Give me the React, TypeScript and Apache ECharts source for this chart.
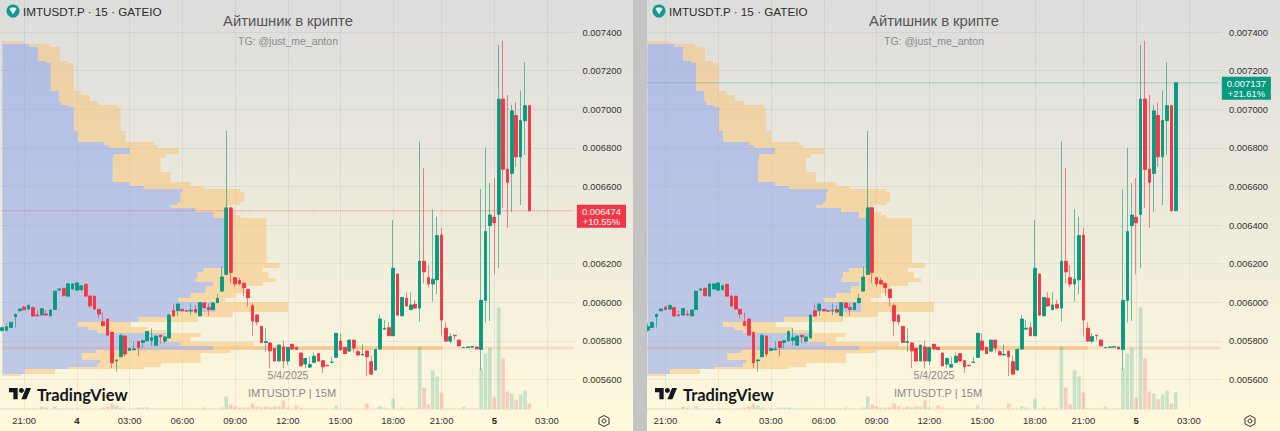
import React, { useEffect, useRef } from "react";
import * as echarts from "echarts";

// open, close, low, high in millionths, one row per 15 minute candle
const ohlc = [
  [5854, 5868, 5848, 5873], [5856, 5873, 5848, 5891], [5870, 5896, 5868, 5899], [5925, 5937, 5870, 5941],
  [5956, 5965, 5956, 5968], [5974, 5962, 5960, 5982], [5965, 5984, 5963, 5986], [5972, 5929, 5927, 5977],
  [5934, 5930, 5929, 5960], [5934, 5967, 5932, 5969], [5939, 5934, 5932, 5960], [5930, 5960, 5929, 5962],
  [5963, 6057, 5962, 6059], [6063, 6069, 6062, 6072], [6072, 6034, 6032, 6075], [6032, 6095, 6030, 6098],
  [6069, 6095, 6067, 6097], [6063, 6100, 6062, 6103], [6065, 6086, 6063, 6088], [6093, 6032, 6030, 6096],
  [6032, 5982, 5972, 6035], [6031, 5965, 5963, 6033], [5963, 5939, 5917, 5965], [5899, 5879, 5877, 5948],
  [5913, 5830, 5828, 5916], [5844, 5687, 5658, 5846], [5697, 5701, 5640, 5704], [5718, 5827, 5716, 5839],
  [5825, 5732, 5718, 5827], [5751, 5761, 5749, 5763], [5754, 5758, 5752, 5799], [5796, 5766, 5721, 5798],
  [5792, 5801, 5761, 5803], [5801, 5848, 5799, 5850], [5803, 5816, 5775, 5865], [5778, 5825, 5776, 5827],
  [5829, 5822, 5787, 5831], [5799, 5820, 5787, 5822], [5815, 5934, 5813, 5936], [5956, 5929, 5927, 5994],
  [5958, 5991, 5930, 5993], [5963, 5956, 5954, 5965], [5956, 5955, 5953, 5958], [5955, 5958, 5934, 5994],
  [5962, 5949, 5947, 5986], [5930, 5998, 5928, 6000], [5996, 5972, 5970, 5998], [5972, 5963, 5930, 5994],
  [5962, 5996, 5960, 5998], [5998, 6020, 5996, 6043], [6058, 6131, 6056, 6184], [6145, 6489, 6143, 6887],
  [6489, 6155, 6098, 6492], [6127, 6096, 6081, 6130], [6112, 6095, 6093, 6127], [6098, 6076, 6032, 6100],
  [6067, 6024, 5977, 6070], [5982, 5903, 5827, 5994], [5934, 5899, 5882, 5937], [5875, 5792, 5790, 5877],
  [5792, 5796, 5744, 5865], [5789, 5749, 5658, 5791], [5761, 5696, 5694, 5763], [5696, 5778, 5694, 5780],
  [5768, 5696, 5658, 5801], [5696, 5766, 5675, 5768], [5782, 5758, 5756, 5785], [5766, 5756, 5754, 5768],
  [5737, 5671, 5669, 5739], [5680, 5709, 5658, 5712], [5664, 5678, 5662, 5718], [5689, 5720, 5687, 5740],
  [5734, 5696, 5694, 5737], [5697, 5666, 5635, 5699], [5673, 5671, 5669, 5676], [5689, 5690, 5687, 5718],
  [5715, 5839, 5713, 5842], [5799, 5753, 5751, 5839], [5766, 5734, 5732, 5768], [5747, 5804, 5745, 5806],
  [5804, 5763, 5740, 5806], [5744, 5727, 5725, 5753], [5727, 5730, 5725, 5782], [5747, 5718, 5618, 5749],
  [5692, 5628, 5626, 5723], [5649, 5756, 5647, 5758], [5758, 5913, 5756, 5934], [5861, 5865, 5859, 5908],
  [5868, 5827, 5825, 5896], [5827, 6176, 5825, 6426], [6146, 5934, 5929, 6148], [5930, 6025, 5928, 6027],
  [6020, 5981, 5979, 6051], [5962, 5986, 5960, 6051], [5989, 5970, 5968, 6012], [5970, 6212, 5899, 6832],
  [6212, 6158, 6098, 6696], [6127, 6095, 6077, 6193], [6095, 6119, 6003, 6482], [6117, 6345, 6043, 6443],
  [6348, 5908, 5827, 6385], [5865, 5799, 5797, 5896], [5799, 5822, 5787, 5839], [5829, 5827, 5804, 5831],
  [5804, 5775, 5770, 5806], [5765, 5766, 5763, 5768], [5766, 5768, 5765, 5770], [5768, 5770, 5766, 5772],
  [5768, 5759, 5757, 5770], [5756, 6010, 5649, 6587], [6010, 6366, 5896, 6801], [6397, 6452, 5903, 6618],
  [6440, 6412, 6145, 6644], [6456, 7052, 6176, 7333], [7052, 6689, 6490, 7355], [6689, 6622, 6385, 7074],
  [6668, 6991, 6469, 7022], [6967, 6754, 6702, 7036], [6754, 6941, 6504, 7096], [6941, 7018, 6763, 7243],
  [7018, 6474, 6474, 7018], [6474, 7137, 6474, 7137],
];

const volumes = [
  1, 1, 1, 1, 1, 1, 1, 1, 1, 3, 2, 1, 3, 1, 1, 1, 1, 1, 1, 1, 1, 1, 1, 2, 3, 6, 4, 2, 1, 1, 1, 2, 2, 2, 1, 1, 1, 1, 1, 1,
  1, 1, 1, 1, 1, 1, 2, 1, 1, 1, 2, 13, 5, 3, 2, 2, 2, 6, 3, 2, 3, 2, 3, 3, 9, 2, 1, 4, 2, 1, 1, 1, 1, 1, 1, 1,
  4, 1, 1, 1, 1, 1, 1, 6, 1, 1, 3, 2, 1, 11, 1, 2, 1, 1, 1, 63, 22, 5, 39, 33, 17, 1, 1, 1, 1, 3, 1, 1, 1, 41, 56, 62,
  12, 102, 51, 18, 16, 10, 15, 19, 6, 17,
];

// volume profile, one row between each price and the next one
const profilePrices = [
  7354, 7338, 7323, 7250, 7240, 7095, 7074, 7043, 7022, 7012, 6887, 6830, 6815, 6799, 6768, 6747, 6675, 6623, 6602, 6587,
  6571, 6520, 6504, 6489, 6468, 6452, 6437, 6204, 6178, 6157, 6126, 6105, 6084, 6048, 6022, 6002, 5950, 5924, 5898, 5872,
  5856, 5841, 5820, 5794, 5774, 5753, 5737, 5701, 5685, 5665, 5652, 5631, 5618,
];
const profileUp = [
  2, 28, 37, 45, 50, 58, 58, 60, 68, 73, 77, 103, 108, 129, 113, 112, 112, 129, 143, 182,
  180, 177, 170, 195, 213, 213, 224, 224, 203, 197, 195, 213, 205, 190, 178, 215, 170, 138, 77, 88,
  97, 165, 160, 180, 213, 95, 81, 100, 97, 68, 24, 2,
];
const profileTotal = [
  24, 49, 59, 67, 73, 80, 89, 98, 117, 120, 125, 153, 157, 178, 165, 160, 170, 190, 204, 240,
  244, 240, 227, 224, 235, 240, 266, 279, 262, 268, 275, 262, 245, 235, 225, 288, 232, 197, 130, 147,
  167, 200, 190, 253, 442, 230, 200, 200, 160, 143, 54, 20,
];

const pricePoc = 0.005763;
const priceTicks = [0.0056, 0.0058, 0.006, 0.0062, 0.0064, 0.0066, 0.0068, 0.007, 0.0072, 0.0074];
// the first panel's price tag sits where 0.006400 would be
const firstPanelTicks = priceTicks.filter((v) => v !== 0.0064);
const tickIndexes = [5, 17, 29, 41, 53, 65, 77, 89, 100, 112, 124];
const tickLabels = ["21:00", "4", "03:00", "06:00", "09:00", "12:00", "15:00", "18:00", "21:00", "5", "03:00"];

const categories = Array.from({ length: 132 }, (_, i) => {
  const k = tickIndexes.indexOf(i);
  return k >= 0 ? tickLabels[k] : "c" + i;
});

const UP = "#089981";
const DOWN = "#f23645";
const FONT = '"Liberation Sans", Arial, sans-serif';
const PLOT_H = 409.5;
const BAND = 4.4;
const PRICE_MIN = 0.00544461;
const PRICE_MAX = 0.00756576;

echarts.graphic.registerShape(
  "tvlogo",
  echarts.graphic.extendPath("M14 22H7V11H0V4h14v18zM28 22h-8l7.5-18h8L28 22z", {}),
);

const profileRender = (color: string) => (_: any, api: any) => {
  const a = api.coord([api.value(0), api.value(2)]);
  const b = api.coord([api.value(1), api.value(3)]);
  const y0 = Math.round(a[1]);
  const y1 = Math.round(b[1]);
  return {
    type: "rect",
    shape: { x: a[0], y: y0, width: b[0] - a[0], height: y1 - y0 },
    style: { fill: color },
  };
};

// one panel of the screenshot: its axes, series and decoration
function buildPanel(
  p: number,
  left: number,
  bands: number,
  shift: number,
  count: number,
  tag: string[],
  tagColor: string,
  tagOffset: number,
  labelTicks: number[],
) {
  const width = bands * BAND;
  const rows = ohlc.slice(0, count);
  const lastPrice = Number(tag[0]);
  const hex = [[604, 415.5], [609, 418.2], [609, 423.8], [604, 426.5], [599, 423.8], [599, 418.2]];
  const grid = { left, top: 0, width, height: PLOT_H };
  const catAxis = {
    type: "category",
    gridIndex: p,
    data: categories.slice(0, bands),
    axisLine: { show: false },
    axisTick: { show: false },
    splitLine: {
      show: true,
      alignWithLabel: true,
      interval: (i: number) => tickIndexes.includes(i),
      lineStyle: { color: "rgba(60,60,60,0.07)", width: 1 },
    },
    axisLabel: {
      interval: (i: number) => tickIndexes.includes(i),
      hideOverlap: false,
      margin: 6,
      fontFamily: FONT,
      fontSize: 9.5,
      color: "#333",
      formatter: (v: string) => (v.length === 1 ? `{b|${v}}` : v),
      rich: { b: { fontWeight: "bold", fontSize: 9.5, fontFamily: FONT, color: "#222" } },
    },
  };
  const profileAxis = {
    type: "value",
    gridIndex: p,
    show: false,
    min: -0.85 - shift,
    max: -0.85 - shift + width,
    splitLine: { show: false },
  };
  const priceAxis = {
    type: "value",
    gridIndex: p,
    position: "right",
    min: PRICE_MIN,
    max: PRICE_MAX,
    axisLine: { show: false },
    axisTick: { show: false, customValues: priceTicks },
    splitLine: { show: true, lineStyle: { color: "rgba(60,60,60,0.07)", width: 1 } },
    axisLabel: {
      customValues: labelTicks,
      margin: 7,
      padding: [0, 0, 1.5, 0],
      fontFamily: FONT,
      fontSize: 9.4,
      color: "#333",
      formatter: (v: number) => v.toFixed(6),
    },
  };
  const volumeAxis = { type: "value", gridIndex: p, show: false, min: 0, max: PLOT_H, splitLine: { show: false } };

  const bandData = (fromUp: boolean) =>
    profileUp.map((u, i) => [fromUp ? 1.5 : u, fromUp ? u : profileTotal[i], profilePrices[i] / 1e6, profilePrices[i + 1] / 1e6]);

  const candleStyle = { color: UP, color0: DOWN, borderColor: UP, borderColor0: DOWN };

  const series = [
    {
      type: "custom",
      xAxisIndex: p * 2 + 1,
      yAxisIndex: p * 2,
      z: 1,
      silent: true,
      encode: { x: [0, 1], y: [2, 3] },
      renderItem: profileRender("rgba(131,158,238,0.5)"),
      data: bandData(true),
    },
    {
      type: "custom",
      xAxisIndex: p * 2 + 1,
      yAxisIndex: p * 2,
      z: 1,
      silent: true,
      encode: { x: [0, 1], y: [2, 3] },
      renderItem: profileRender("rgba(250,193,112,0.5)"),
      data: bandData(false),
    },
    {
      // pale band at the point of control
      type: "line",
      xAxisIndex: p * 2,
      yAxisIndex: p * 2,
      z: 1.5,
      silent: true,
      symbol: "none",
      lineStyle: { width: 3, color: "rgba(240,110,60,0.17)" },
      data: categories.slice(0, bands).map(() => pricePoc),
    },
    {
      type: "bar",
      xAxisIndex: p * 2,
      yAxisIndex: p * 2 + 1,
      z: 2,
      silent: true,
      barWidth: 3.6,
      data: rows.map((r, i) => ({
        value: volumes[i],
        itemStyle: { color: r[1] >= r[0] ? "rgba(8,153,129,0.22)" : "rgba(242,54,69,0.22)" },
      })),
    },
    {
      // wicks, drawn pale
      type: "candlestick",
      xAxisIndex: p * 2,
      yAxisIndex: p * 2,
      z: 3,
      silent: true,
      barWidth: 3,
      itemStyle: { ...candleStyle, borderWidth: 1, opacity: 0.6 },
      data: rows.map((r) => r.map((v) => v / 1e6)),
    },
    {
      // bodies on top of the wicks
      type: "candlestick",
      xAxisIndex: p * 2,
      yAxisIndex: p * 2,
      z: 3.1,
      silent: true,
      barWidth: 3.2,
      barGap: "-100%",
      itemStyle: { ...candleStyle, borderWidth: 0.6 },
      data: rows.map((r) => [r[0], r[1], Math.min(r[0], r[1]), Math.max(r[0], r[1])].map((v) => v / 1e6)),
    },
    {
      // last price, dotted, with its tag at the end
      type: "line",
      xAxisIndex: p * 2,
      yAxisIndex: p * 2,
      z: 4,
      silent: true,
      symbol: "none",
      lineStyle: { type: "dotted", width: 1, color: tagColor, opacity: 0.6 },
      data: categories.slice(0, bands).map(() => lastPrice),
      endLabel: {
        show: true,
        distance: 3.6,
        offset: [tagOffset, 5.5],
        formatter: tag.join("\n"),
        backgroundColor: tagColor,
        color: "#fff",
        fontFamily: FONT,
        fontSize: 9.4,
        lineHeight: 10.5,
        align: "center",
        padding: [1, 5],
      },
    },
  ];

  const dx = p === 0 ? 0 : 646;
  const txt = (x: number, y: number, text: string, size: number, fill: string, align = "center", weight = "normal", family = FONT) => ({
    type: "text",
    z: 50,
    x: x + dx,
    y,
    style: { text, fontSize: size, fontFamily: family, fontWeight: weight, fill, align, verticalAlign: "middle" },
  });
  const graphics = [
    { type: "circle", z: 50, shape: { cx: 13 + dx, cy: 11, r: 6.5 }, style: { fill: "#11998e" } },
    {
      type: "polygon",
      z: 51,
      shape: { points: [[9.5 + dx, 9], [11 + dx, 7.5], [15 + dx, 7.5], [16.5 + dx, 9], [13 + dx, 14.5]] },
      style: { fill: "#e6f6f3" },
    },
    txt(23, 11, "IMTUSDT.P · 15 · GATEIO", 11.7, "#2c2c2c", "left"),
    txt(288, 21, "Айтишник в крипте", 14.8, "#555"),
    txt(288, 41, "TG: @just_me_anton", 10.5, "#8b8b8b"),
    txt(288, 375, "5/4/2025", 10.5, "#8a8a8a"),
    txt(292, 393, "IMTUSDT.P | 15M", 11, "#8a8a8a"),
    { type: "tvlogo", z: 50, x: 9 + dx, y: 385.5, scaleX: 0.62, scaleY: 0.62, style: { fill: "#131722" } },
    { type: "circle", z: 50, shape: { cx: 9 + dx + 20 * 0.62, cy: 385.5 + 8 * 0.62, r: 4 * 0.62 }, style: { fill: "#131722" } },
    txt(37, 394.5, "TradingView", 16.4, "#131722", "left", "700", "Lato"),
    {
      type: "polygon",
      z: 50,
      shape: { points: hex.map((h) => [h[0] + dx, h[1]]) },
      style: { fill: "none", stroke: "#333", lineWidth: 1 },
    },
    { type: "circle", z: 50, shape: { cx: 604 + dx, cy: 421, r: 2 }, style: { fill: "none", stroke: "#333", lineWidth: 1 } },
  ];

  return { grid, xAxes: [catAxis, profileAxis], yAxes: [priceAxis, volumeAxis], series, graphics };
}

const App: React.FC = () => {
  const chartRef = useRef<HTMLDivElement>(null);

  useEffect(() => {
    const chart = echarts.init(chartRef.current!, null, { renderer: "svg" });
    const a = buildPanel(0, -0.85, 131, 0, 121, ["0.006474", "+10.55%"], DOWN, 24.5, firstPanelTicks);
    const b = buildPanel(1, 641.15, 132, 4, 122, ["0.007137", "+21.61%"], UP, 23, priceTicks);

    chart.setOption({
      animation: false,
      backgroundColor: new echarts.graphic.LinearGradient(0, 0, 0, 1, [
        { offset: 0, color: "#dcdcdc" },
        { offset: 1, color: "#fff9dc" },
      ]),
      grid: [a.grid, b.grid],
      xAxis: [...a.xAxes, ...b.xAxes],
      yAxis: [...a.yAxes, ...b.yAxes],
      series: [...a.series, ...b.series],
      graphic: [
        ...a.graphics,
        ...b.graphics,
        // grey strip between the two screenshots
        { type: "rect", z: 40, shape: { x: 633, y: 0, width: 14, height: 431 }, style: { fill: "#c4c4c4" } },
      ],
    });

    return () => {
      chart.dispose();
    };
  }, []);

  return <div ref={chartRef} style={{ position: "absolute", left: 0, top: 0, width: 1280, height: 431 }} />;
};

export default App;
